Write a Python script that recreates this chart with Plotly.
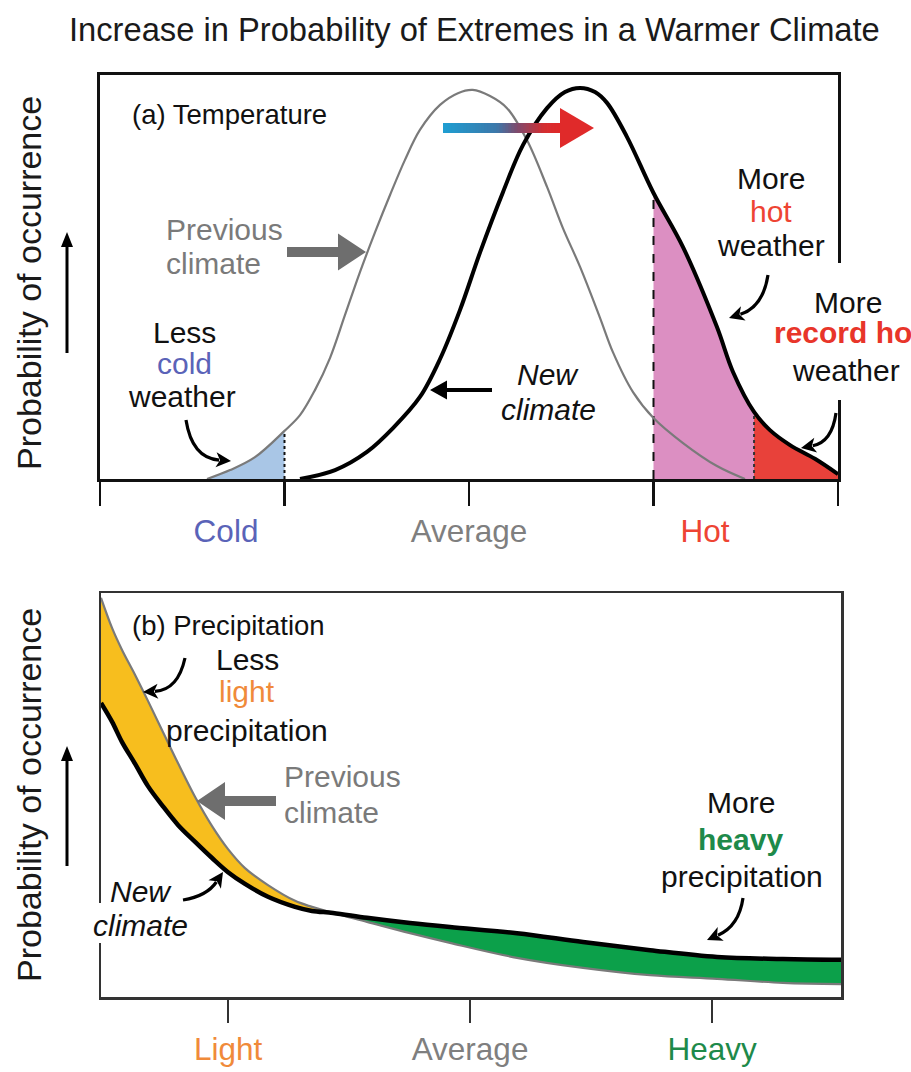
import math
import plotly.graph_objects as go

W, H = 911, 1072
FONT = "Liberation Sans, Arial, Helvetica, sans-serif"

title_text = "Increase in Probability of Extremes in a Warmer Climate"
y_title = "Probability of occurrence"

# ---------------- Panel (a): temperature ----------------
temp_tick_vals = [-2, -1, 0, 1, 2]
temp_label_vals = [-1.317, 0.0, 1.279]
temp_label_text = ["Cold", "Average", "Hot"]
temp_label_colors = ["#5a63b8", "#7f7f7f", "#ee4433"]

prev_temp_x = [-1.42, -1.295, -1.16, -1.0, -0.916, -0.835, -0.753, -0.672, -0.591, -0.509,
               -0.428, -0.347, -0.266, -0.157, -0.06, 0.02, 0.114, 0.206, 0.314, 0.423,
               0.509, 0.602, 0.71, 0.78, 0.889, 1.0, 1.16, 1.344, 1.496]
prev_temp_y = [0.0, 0.022, 0.054, 0.119, 0.158, 0.22, 0.3, 0.406, 0.512, 0.611,
               0.703, 0.79, 0.864, 0.926, 0.955, 0.963, 0.948, 0.918, 0.839, 0.723,
               0.621, 0.525, 0.399, 0.314, 0.215, 0.151, 0.089, 0.032, 0.0]

new_temp_x = [-0.916, -0.726, -0.553, -0.412, -0.266, -0.157, -0.049, 0.060, 0.184, 0.293,
              0.423, 0.520, 0.602, 0.683, 0.748, 0.856, 1.0, 1.160, 1.344, 1.431,
              1.545, 1.631, 1.740, 1.875, 2.0]
new_temp_y = [0.0, 0.022, 0.067, 0.126, 0.203, 0.297, 0.418, 0.561, 0.710, 0.827,
              0.918, 0.958, 0.968, 0.958, 0.931, 0.847, 0.708, 0.574, 0.376, 0.265,
              0.166, 0.121, 0.084, 0.050, 0.012]

cold_threshold = -1.0
hot_threshold = 1.0
record_threshold = 1.545

# ---------------- Panel (b): precipitation ----------------
precip_tick_vals = [1, 2, 3]
precip_tick_text = ["Light", "Average", "Heavy"]
precip_tick_colors = ["#f08a3a", "#7f7f7f", "#1e8a4a"]

precip_x = [0.475, 0.521, 0.562, 0.616, 0.669, 0.727, 0.793, 0.864, 0.934, 1.0,
            1.070, 1.165, 1.277, 1.347, 1.434, 1.574, 1.752, 1.917, 2.194, 2.467,
            2.744, 3.021, 3.293, 3.533]
prev_precip_y = [0.988, 0.913, 0.859, 0.797, 0.733, 0.661, 0.579, 0.495, 0.423, 0.366,
                 0.319, 0.277, 0.238, 0.223, 0.208, 0.186, 0.158, 0.134, 0.097, 0.072,
                 0.054, 0.045, 0.035, 0.032]
new_precip_y = [0.728, 0.681, 0.631, 0.577, 0.522, 0.475, 0.426, 0.384, 0.344, 0.309,
                0.280, 0.248, 0.223, 0.213, 0.208, 0.196, 0.183, 0.173, 0.158, 0.136,
                0.116, 0.099, 0.094, 0.092]
precip_crossing = 1.434

# colours
C_PREV = "#7a7a7a"
C_NEW = "#000000"
C_COLDFILL = "#a9c6e6"
C_HOTFILL = "#dc8fc2"
C_RECFILL = "#e8413a"
C_YELLOW = "#f7be1e"
C_GREEN = "#0ca04a"

fig = go.Figure()


def sub(xs, ys, lo, hi):
    pts = [(x, y) for x, y in zip(xs, ys) if lo <= x <= hi]
    return [p[0] for p in pts], [p[1] for p in pts]


# ---- panel a fills
cx, cy = sub(prev_temp_x, prev_temp_y, -9, cold_threshold)
fig.add_trace(go.Scatter(x=cx, y=cy, mode="lines", line=dict(width=0, shape="spline"),
                         fill="tozeroy", fillcolor=C_COLDFILL, xaxis="x", yaxis="y"))
hx, hy = sub(new_temp_x, new_temp_y, hot_threshold, record_threshold)
fig.add_trace(go.Scatter(x=hx, y=hy, mode="lines", line=dict(width=0, shape="spline"),
                         fill="tozeroy", fillcolor=C_HOTFILL, xaxis="x", yaxis="y"))
rx, ry = sub(new_temp_x, new_temp_y, record_threshold, 9)
fig.add_trace(go.Scatter(x=rx, y=ry, mode="lines", line=dict(width=0, shape="spline"),
                         fill="tozeroy", fillcolor=C_RECFILL, xaxis="x", yaxis="y"))

prev_lookup = dict(zip(prev_temp_x, prev_temp_y))
new_lookup = dict(zip(new_temp_x, new_temp_y))
for xv, yv, dash, col in [(cold_threshold, prev_lookup[cold_threshold], "dot", "#111"),
                          (hot_threshold, new_lookup[hot_threshold], "dash", "#111"),
                          (record_threshold, new_lookup[record_threshold], "dot", "#333")]:
    fig.add_trace(go.Scatter(x=[xv, xv], y=[0, yv], mode="lines",
                             line=dict(color=col, width=2, dash=dash), xaxis="x", yaxis="y"))

fig.add_trace(go.Scatter(x=prev_temp_x, y=prev_temp_y, mode="lines",
                         line=dict(color=C_PREV, width=2.2, shape="spline"), xaxis="x", yaxis="y"))
fig.add_trace(go.Scatter(x=new_temp_x, y=new_temp_y, mode="lines",
                         line=dict(color=C_NEW, width=4, shape="spline"), xaxis="x", yaxis="y"))

# invisible trace so the label axis of panel (a) is built
fig.add_trace(go.Scatter(x=temp_label_vals, y=[0.5] * len(temp_label_vals), mode="markers",
                         marker=dict(opacity=0, size=1), hoverinfo="skip", xaxis="x4", yaxis="y"))

# ---- panel b fills
i_cross = precip_x.index(precip_crossing)
fig.add_trace(go.Scatter(x=precip_x[:i_cross + 1], y=prev_precip_y[:i_cross + 1], mode="lines",
                         line=dict(width=0, shape="spline"), xaxis="x2", yaxis="y2"))
fig.add_trace(go.Scatter(x=precip_x[:i_cross + 1], y=new_precip_y[:i_cross + 1], mode="lines",
                         line=dict(width=0, shape="spline"), fill="tonexty", fillcolor=C_YELLOW,
                         xaxis="x2", yaxis="y2"))
fig.add_trace(go.Scatter(x=precip_x[i_cross:], y=prev_precip_y[i_cross:], mode="lines",
                         line=dict(width=0, shape="spline"), xaxis="x2", yaxis="y2"))
fig.add_trace(go.Scatter(x=precip_x[i_cross:], y=new_precip_y[i_cross:], mode="lines",
                         line=dict(width=0, shape="spline"), fill="tonexty", fillcolor=C_GREEN,
                         xaxis="x2", yaxis="y2"))
fig.add_trace(go.Scatter(x=precip_x, y=prev_precip_y, mode="lines",
                         line=dict(color=C_PREV, width=2.2, shape="spline"), xaxis="x2", yaxis="y2"))
fig.add_trace(go.Scatter(x=precip_x, y=new_precip_y, mode="lines",
                         line=dict(color=C_NEW, width=4.5, shape="spline"), xaxis="x2", yaxis="y2"))


# ---------------- decorations (pixel helpers -> paper coords) ----------------
def P(px, py):
    return px / W, 1 - py / H


def path_of(pts, close=True):
    s = ""
    for i, (px, py) in enumerate(pts):
        x, y = P(px, py)
        s += ("M" if i == 0 else "L") + f"{x:.5f},{y:.5f} "
    return s + ("Z" if close else "")


def block_arrow(p0, p1, shaft_w, head_len, head_w):
    (x0, y0), (x1, y1) = p0, p1
    dx, dy = x1 - x0, y1 - y0
    L = math.hypot(dx, dy)
    ux, uy = dx / L, dy / L
    nx, ny = -uy, ux
    bx, by = x1 - ux * head_len, y1 - uy * head_len
    s, h = shaft_w / 2, head_w / 2
    return path_of([(x0 + nx * s, y0 + ny * s), (bx + nx * s, by + ny * s),
                    (bx + nx * h, by + ny * h), (x1, y1), (bx - nx * h, by - ny * h),
                    (bx - nx * s, by - ny * s), (x0 - nx * s, y0 - ny * s)])


shapes = []


def add_block_arrow(p0, p1, shaft_w, head_len, head_w, color):
    shapes.append(dict(type="path", xref="paper", yref="paper",
                       path=block_arrow(p0, p1, shaft_w, head_len, head_w),
                       fillcolor=color, line=dict(width=0), layer="above"))


def add_curved_arrow(p0, c, p1, color="#000", width=3.2, head_len=15, head_w=15):
    dx, dy = p1[0] - c[0], p1[1] - c[1]
    L = math.hypot(dx, dy)
    ux, uy = dx / L, dy / L
    nx, ny = -uy, ux
    bx, by = p1[0] - ux * head_len, p1[1] - uy * head_len
    ex, ey = bx + ux * 3, by + uy * 3
    a = P(*p0); b = P(*c); e = P(ex, ey)
    shapes.append(dict(type="path", xref="paper", yref="paper",
                       path=f"M{a[0]:.5f},{a[1]:.5f} Q{b[0]:.5f},{b[1]:.5f} {e[0]:.5f},{e[1]:.5f}",
                       line=dict(color=color, width=width), layer="above"))
    h = head_w / 2
    shapes.append(dict(type="path", xref="paper", yref="paper",
                       path=path_of([p1, (bx + nx * h, by + ny * h), (bx + ux * 4, by + uy * 4),
                                     (bx - nx * h, by - ny * h)]),
                       fillcolor=color, line=dict(width=0), layer="above"))


def white_box(px0, py0, px1, py1):
    a = P(px0, py0); b = P(px1, py1)
    shapes.append(dict(type="rect", xref="paper", yref="paper", x0=a[0], x1=b[0], y0=a[1], y1=b[1],
                       fillcolor="white", line=dict(width=0), layer="above"))


# breaks in the frames behind labels
white_box(834, 263, 842, 400)
white_box(96, 903, 106, 943)

# gradient warming arrow
stops = [(0.0, (30, 158, 210)), (0.45, (60, 120, 170)), (0.62, (125, 75, 110)),
         (0.85, (212, 45, 48)), (1.0, (226, 40, 40))]


def grad(t):
    for (t0, c0), (t1, c1) in zip(stops[:-1], stops[1:]):
        if t <= t1:
            f = (t - t0) / (t1 - t0)
            return "rgb(%d,%d,%d)" % tuple(round(c0[k] + f * (c1[k] - c0[k])) for k in range(3))
    return "rgb(226,40,40)"


sx0, sx1, sy0, sy1 = 443, 562, 123, 133
nseg = 40
for i in range(nseg):
    a = sx0 + (sx1 - sx0) * i / nseg
    b = sx0 + (sx1 - sx0) * (i + 1) / nseg + 0.8
    pa = P(a, sy1); pb = P(b, sy0)
    shapes.append(dict(type="rect", xref="paper", yref="paper", x0=pa[0], x1=pb[0], y0=pa[1], y1=pb[1],
                       fillcolor=grad((i + 0.5) / nseg), line=dict(width=0), layer="above"))
shapes.append(dict(type="path", xref="paper", yref="paper",
                   path=path_of([(560, 108), (594, 128), (560, 148)]),
                   fillcolor="#e02a2a", line=dict(width=0), layer="above"))

# straight arrows
add_block_arrow((287, 252), (366, 252), 10, 28, 37, "#6e6e6e")
add_block_arrow((492, 390), (430, 390), 4, 17, 19, "#000")
add_block_arrow((276, 801), (197, 801), 10, 28, 38, "#6e6e6e")
add_block_arrow((67, 353), (67, 232), 3, 15, 12, "#000")
add_block_arrow((67, 866), (67, 746), 3, 15, 12, "#000")

# curved arrows
add_curved_arrow((186, 420), (192, 458), (231, 461))
add_curved_arrow((768, 275), (763, 307), (729, 318))
add_curved_arrow((836, 413), (832, 442), (801, 448))
add_curved_arrow((185, 658), (178, 690), (143, 692))
add_curved_arrow((183, 900), (207, 896), (223, 872))
add_curved_arrow((743, 898), (739, 926), (707, 940))

# ---------------- text ----------------
annotations = []


def txt(text, px, py, size=30, color="#111", anchor="center", angle=0):
    x, y = P(px, py)
    annotations.append(dict(x=x, y=y, xref="paper", yref="paper", text=text, showarrow=False,
                            xanchor=anchor, yanchor="middle", textangle=angle,
                            font=dict(family=FONT, size=size, color=color)))


txt(title_text, 474, 29, size=32.7, color="#1a1a1a")
txt(y_title, 29, 283, size=34, color="#1a1a1a", angle=-90)
txt(y_title, 29, 795, size=34, color="#1a1a1a", angle=-90)

txt("(a) Temperature", 130, 114, size=27.5, anchor="left")
txt("Previous", 164, 229, color=C_PREV, anchor="left")
txt("climate", 164, 263, color=C_PREV, anchor="left")
txt("Less", 184, 333)
txt("cold", 184, 363, color="#5a63b8")
txt("weather", 182, 397)
txt("<i>New</i>", 548, 374)
txt("<i>climate</i>", 548, 409)
txt("More", 771, 179)
txt("hot", 771, 212, color="#ee4433")
txt("weather", 771, 245)
txt("More", 848, 302)
txt("<b>record hot</b>", 848, 333, color="#e8352a")
txt("weather", 846, 370)

txt("(b) Precipitation", 130, 625, size=27.5, anchor="left")
txt("Less", 247, 659)
txt("light", 247, 691, color="#f08a3a")
txt("precipitation", 247, 730)
txt("Previous", 282, 776, color=C_PREV, anchor="left")
txt("climate", 282, 812, color=C_PREV, anchor="left")
txt("<i>New</i>", 141, 891)
txt("<i>climate</i>", 140, 925)
txt("More", 741, 802)
txt("<b>heavy</b>", 740, 839, color="#1e8a4a")
txt("precipitation", 742, 876)


def colored(texts, colors):
    return [f"<span style='color:{c}'>{t}</span>" if t else "" for t, c in zip(texts, colors)]


common = dict(showgrid=False, zeroline=False, fixedrange=True)
fig.update_layout(
    width=W, height=H, autosize=False,
    margin=dict(l=0, r=0, t=0, b=0),
    paper_bgcolor="white", plot_bgcolor="white",
    showlegend=False,
    font=dict(family=FONT),
    xaxis=dict(domain=[100 / W, 838 / W], range=[-2, 2], anchor="y",
               showline=True, linewidth=3, linecolor="#111", mirror=True,
               ticks="outside", ticklen=24, tickwidth=2.5, tickcolor="#111",
               tickvals=temp_tick_vals, showticklabels=False, **common),
    xaxis4=dict(domain=[100 / W, 838 / W], range=[-2, 2], anchor="y", overlaying="x",
                side="bottom", showline=False, showticklabels=True,
                ticks="outside", ticklen=24, tickwidth=1, tickcolor="rgba(0,0,0,0)",
                tickmode="array", tickvals=temp_label_vals,
                ticktext=colored(temp_label_text, temp_label_colors),
                tickfont=dict(size=31.5, family=FONT), **common),
    yaxis=dict(domain=[1 - 479 / H, 1 - 75 / H], range=[0, 1], anchor="x",
               showline=True, linewidth=3, linecolor="#111", mirror=True,
               showticklabels=False, ticks="", **common),
    xaxis2=dict(domain=[101 / W, 841 / W], range=[0.475, 3.533], anchor="y2",
                showline=True, linewidth=2.5, linecolor="#333", mirror=True,
                ticks="outside", ticklen=23, tickwidth=2, tickcolor="#333",
                tickvals=precip_tick_vals, ticktext=colored(precip_tick_text, precip_tick_colors),
                tickfont=dict(size=31.5, family=FONT), **common),
    xaxis3=dict(domain=[101 / W, 841 / W], range=[0.475, 3.533], anchor="y2", overlaying="x2",
                showline=False, ticks="inside", ticklen=22, tickwidth=2, tickcolor="#333",
                tickvals=precip_tick_vals, showticklabels=False, **common),
    yaxis2=dict(domain=[1 - 997 / H, 1 - 593 / H], range=[0, 1], anchor="x2",
                showline=True, linewidth=2.5, linecolor="#333", mirror=True,
                showticklabels=False, ticks="", **common),
    shapes=shapes,
    annotations=annotations,
)

fig.write_html("out.html", include_plotlyjs=True, full_html=True,
               config={"displayModeBar": False, "staticPlot": True},
               post_script="document.body.style.margin='0px';document.body.style.overflow='hidden';")
